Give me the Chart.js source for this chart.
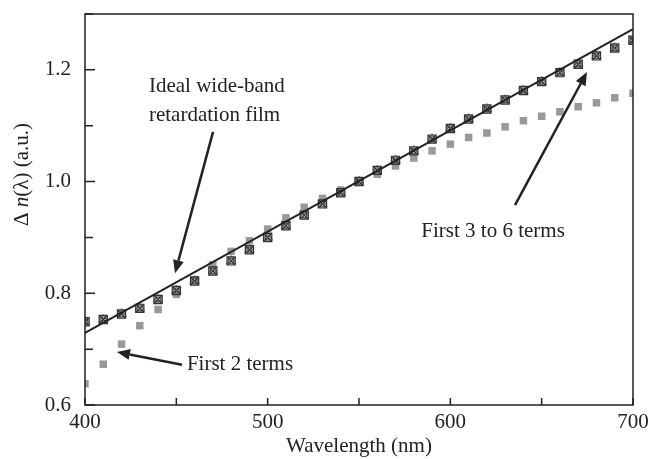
<!DOCTYPE html>
<html>
<head>
<meta charset="utf-8">
<script src="https://cdn.jsdelivr.net/npm/chart.js@4/dist/chart.umd.min.js"></script>
<style>
  body { margin: 0; background: #fff; }
  canvas { display: block; }
</style>
</head>
<body>
<canvas id="myChart" width="649" height="459"></canvas>
<script>
// values
var wavelength = [400, 410, 420, 430, 440, 450, 460, 470, 480, 490,
                  500, 510, 520, 530, 540, 550, 560, 570, 580, 590,
                  600, 610, 620, 630, 640, 650, 660, 670, 680, 690, 700];
var firstTwoTerms = [0.638, 0.673, 0.709, 0.742, 0.771, 0.798, 0.824, 0.851, 0.875, 0.894,
                     0.915, 0.935, 0.954, 0.970, 0.985, 0.999, 1.013, 1.028, 1.042, 1.055,
                     1.067, 1.079, 1.087, 1.098, 1.109, 1.117, 1.125, 1.134, 1.141, 1.150, 1.158];
var firstThreeToSixTerms = [0.749, 0.753, 0.763, 0.773, 0.789, 0.805, 0.822, 0.840, 0.858, 0.878,
                            0.900, 0.921, 0.940, 0.960, 0.980, 1.000, 1.020, 1.038, 1.055, 1.076,
                            1.095, 1.112, 1.130, 1.146, 1.163, 1.179, 1.195, 1.210, 1.225, 1.239, 1.253];
var idealWavelength = [400, 700];
var idealValues = [0.729, 1.273];
var xTickLabels = [400, 500, 600, 700];
var yTickLabels = [0.6, 0.8, 1.0, 1.2];

// annotation texts and arrows, in data units
var notes = [
    { text: 'Ideal wide-band', x: 435, y: 1.170, align: 'left' },
    { text: 'retardation film', x: 435, y: 1.119, align: 'left' },
    { text: 'First 2 terms', x: 455.8, y: 0.672, align: 'left' },
    { text: 'First 3 to 6 terms', x: 623.4, y: 0.910, align: 'center' }
];
var arrows = [
    { x0: 470.1, y0: 1.089, x1: 449.3, y1: 0.836 },
    { x0: 453.1, y0: 0.672, x1: 417.5, y1: 0.695 },
    { x0: 635.4, y0: 0.958, x1: 674.8, y1: 1.196 }
];

var serif = '"Liberation Serif", "DejaVu Serif", serif';
var ink = '#222';

function pairs(xs, ys) {
    return xs.map(function (x, i) { return { x: x, y: ys[i] }; });
}

function noPad(scale) {
    scale.paddingTop = 0;
    scale.paddingBottom = 0;
    scale.paddingLeft = 0;
    scale.paddingRight = 0;
}

var frame = {
    id: 'frame',
    afterDraw: function (chart) {
        var ctx = chart.ctx, a = chart.chartArea;
        var xs = chart.scales.x, ys = chart.scales.y;
        ctx.save();
        ctx.strokeStyle = ink;
        ctx.lineWidth = 1.5;
        ctx.strokeRect(a.left, a.top, a.right - a.left, a.bottom - a.top);

        // inward ticks
        ctx.beginPath();
        ys.ticks.forEach(function (t) {
            var py = ys.getPixelForValue(t.value);
            var big = yTickLabels.some(function (v) { return Math.abs(v - t.value) < 1e-6; });
            ctx.moveTo(a.left, py);
            ctx.lineTo(a.left + (big ? 10 : 8), py);
        });
        xs.ticks.forEach(function (t) {
            var px = xs.getPixelForValue(t.value);
            ctx.moveTo(px, a.bottom);
            ctx.lineTo(px, a.bottom - 7);
        });
        ctx.stroke();

        // y axis title with italic n
        ctx.fillStyle = ink;
        ctx.translate(22, (a.top + a.bottom) / 2 - 35);
        ctx.rotate(-Math.PI / 2);
        var parts = [['\u0394 ', 'normal'], ['n', 'italic'], ['(\u03bb) (a.u.)', 'normal']];
        var total = 0;
        parts.forEach(function (p) {
            ctx.font = p[1] + ' 21px ' + serif;
            total += ctx.measureText(p[0]).width;
        });
        var cx = -total / 2;
        ctx.textBaseline = 'middle';
        ctx.textAlign = 'left';
        parts.forEach(function (p) {
            ctx.font = p[1] + ' 21px ' + serif;
            ctx.fillText(p[0], cx, 0);
            cx += ctx.measureText(p[0]).width;
        });
        ctx.setTransform(1, 0, 0, 1, 0, 0);

        // annotations
        ctx.font = '21px ' + serif;
        ctx.textBaseline = 'middle';
        notes.forEach(function (n) {
            ctx.textAlign = n.align;
            ctx.fillText(n.text, xs.getPixelForValue(n.x), ys.getPixelForValue(n.y));
        });
        ctx.lineWidth = 2.5;
        arrows.forEach(function (ar) {
            var x0 = xs.getPixelForValue(ar.x0), y0 = ys.getPixelForValue(ar.y0);
            var x1 = xs.getPixelForValue(ar.x1), y1 = ys.getPixelForValue(ar.y1);
            var ang = Math.atan2(y1 - y0, x1 - x0);
            var hl = 13, hw = 5.5;
            var bx = x1 - hl * Math.cos(ang), by = y1 - hl * Math.sin(ang);
            ctx.beginPath();
            ctx.moveTo(x0, y0);
            ctx.lineTo(bx, by);
            ctx.stroke();
            ctx.beginPath();
            ctx.moveTo(x1, y1);
            ctx.lineTo(bx + hw * Math.sin(ang), by - hw * Math.cos(ang));
            ctx.lineTo(bx - hw * Math.sin(ang), by + hw * Math.cos(ang));
            ctx.closePath();
            ctx.fill();
        });
        ctx.restore();
    }
};

var ctx = document.getElementById('myChart').getContext('2d');
var myChart = new Chart(ctx, {
    type: 'scatter',
    data: {
        datasets: [{
            label: 'Ideal wide-band retardation film',
            type: 'line',
            data: pairs(idealWavelength, idealValues),
            borderColor: ink,
            borderWidth: 2,
            pointRadius: 0,
            fill: false
        }, {
            label: 'First 5 terms',
            data: pairs(wavelength, firstThreeToSixTerms),
            pointStyle: 'crossRot',
            pointRadius: 5,
            borderColor: '#333',
            borderWidth: 1.3
        }, {
            label: 'First 4 terms',
            data: pairs(wavelength, firstThreeToSixTerms),
            pointStyle: 'circle',
            pointRadius: 2.5,
            borderColor: '#444',
            backgroundColor: 'rgba(255,255,255,0.8)',
            borderWidth: 1
        }, {
            label: 'First 3 terms',
            data: pairs(wavelength, firstThreeToSixTerms),
            pointStyle: 'rect',
            pointRadius: 5.8,
            borderColor: '#333',
            backgroundColor: 'rgba(110,110,110,0.45)',
            borderWidth: 1.2
        }, {
            label: 'First 6 terms',
            data: pairs(wavelength, firstThreeToSixTerms),
            pointStyle: 'triangle',
            pointRadius: 5.5,
            borderColor: '#888',
            backgroundColor: 'rgba(0,0,0,0)',
            borderWidth: 1
        }, {
            label: 'First 2 terms',
            data: pairs(wavelength, firstTwoTerms),
            pointStyle: 'rect',
            pointRadius: 5.3,
            borderWidth: 0,
            backgroundColor: '#999'
        }]
    },
    options: {
        responsive: false,
        animation: false,
        events: [],
        layout: { padding: { left: 0, top: 14, right: 16, bottom: 0 } },
        plugins: {
            legend: { display: false },
            tooltip: { enabled: false }
        },
        scales: {
            x: {
                type: 'linear',
                min: 400,
                max: 700,
                grid: { display: false, drawTicks: false },
                border: { display: false },
                ticks: {
                    stepSize: 50,
                    padding: 5,
                    color: ink,
                    font: { family: serif, size: 21 },
                    maxRotation: 0,
                    autoSkip: false,
                    callback: function (value) {
                        return xTickLabels.indexOf(value) >= 0 ? String(value) : '';
                    }
                },
                title: {
                    display: true,
                    text: 'Wavelength (nm)',
                    color: ink,
                    font: { family: serif, size: 21 },
                    padding: { top: 0, bottom: 0 }
                },
                afterFit: function (scale) { scale.height = 54; noPad(scale); }
            },
            y: {
                min: 0.6,
                max: 1.3,
                grid: { display: false, drawTicks: false },
                border: { display: false },
                ticks: {
                    stepSize: 0.1,
                    padding: 14,
                    color: ink,
                    font: { family: serif, size: 21 },
                    autoSkip: false,
                    callback: function (value) {
                        var hit = yTickLabels.some(function (v) { return Math.abs(v - value) < 1e-6; });
                        return hit ? value.toFixed(1) : '';
                    }
                },
                afterFit: function (scale) { scale.width = 85; noPad(scale); }
            }
        }
    },
    plugins: [frame]
});
</script>
</body>
</html>
